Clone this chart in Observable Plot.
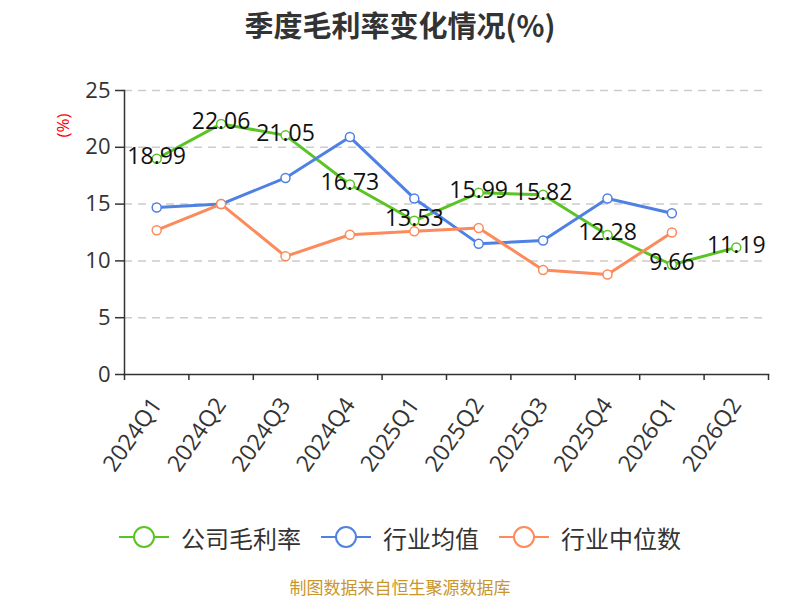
<!DOCTYPE html>
<html>
<head>
<meta charset="utf-8">
<script src="https://cdn.jsdelivr.net/npm/d3@7"></script>
<script src="https://cdn.jsdelivr.net/npm/@observablehq/plot@0.6"></script>
<style>
  html, body { margin: 0; padding: 0; background: #fff; }
  body { width: 800px; height: 600px; overflow: hidden; font-family: 'Open Sans', 'Noto Sans CJK SC', sans-serif; }
  #title { height: 45px; line-height: 48px; text-align: center; font-size: 29px; font-weight: bold; color: #333; font-family: 'Noto Sans CJK SC', sans-serif; }
  #chart { height: 455px; }
  #legend { height: 74px; display: flex; align-items: center; justify-content: center; font-size: 24px; color: #333; font-family: 'Noto Sans CJK SC', sans-serif; }
  .item { display: flex; align-items: center; margin: 0 10px; }
  .item svg { margin-right: 12px; }
  #footer { text-align: center; font-size: 17px; line-height: 26px; color: #c9962c; font-family: 'Noto Sans CJK SC', sans-serif; }
</style>
</head>
<body>
<div id="title">季度毛利率变化情况(%)</div>
<div id="chart"></div>
<div id="legend"></div>
<div id="footer">制图数据来自恒生聚源数据库</div>
<script>
const quarters = ["2024Q1","2024Q2","2024Q3","2024Q4","2025Q1","2025Q2","2025Q3","2025Q4","2026Q1","2026Q2"];
const company = [18.99, 22.06, 21.05, 16.73, 13.53, 15.99, 15.82, 12.28, 9.66, 11.19];
const industryMean = [14.7, 15.0, 17.3, 20.9, 15.5, 11.5, 11.8, 15.5, 14.2];
const industryMedian = [12.7, 15.0, 10.4, 12.3, 12.6, 12.9, 9.2, 8.8, 12.5];
const seriesNames = ["公司毛利率", "行业均值", "行业中位数"];
const seriesColors = ["#5ac425", "#4f80e3", "#fc8a5a"];
const yTicks = [0, 5, 10, 15, 20, 25];
const gridTicks = [5, 10, 15, 20, 25];

function rows(values, name) {
  return values.map((v, i) => ({ i: i + 0.5, q: quarters[i], v, series: name }));
}
const companyRows = rows(company, seriesNames[0]);
const meanRows = rows(industryMean, seriesNames[1]);
const medianRows = rows(industryMedian, seriesNames[2]);

const font = "'Open Sans', 'Noto Sans CJK SC', sans-serif";

const plot = Plot.plot({
  width: 800,
  height: 455,
  marginTop: 45,
  marginLeft: 124,
  marginRight: 32,
  marginBottom: 126,
  style: { fontFamily: font, background: "white", overflow: "visible" },
  x: { domain: [0, quarters.length], axis: null },
  y: { domain: [0, 25], axis: null },
  color: { domain: seriesNames, range: seriesColors },
  marks: [
    Plot.ruleY(gridTicks, { stroke: "#cccccc", strokeWidth: 1.5, strokeDasharray: "8,6" }),
    Plot.axisY({ ticks: yTicks, tickSize: 9, tickPadding: 5, fontSize: 22, color: "#333", label: null, strokeWidth: 1.5 }),
    Plot.axisX({ ticks: d3.range(quarters.length + 1), tickSize: 6, tickFormat: () => "", color: "#333", label: null, strokeWidth: 1.5 }),
    Plot.axisX({ ticks: d3.range(quarters.length).map(i => i + 0.5), tickSize: 0, tickPadding: 26, tickRotate: -55,
      tickFormat: d => quarters[Math.floor(d)], fontSize: 23, color: "#333", label: null }),
    Plot.frame({ anchor: "left", stroke: "#333", strokeWidth: 1.5 }),
    Plot.frame({ anchor: "bottom", stroke: "#333", strokeWidth: 1.5 }),
    Plot.text(["(%)"], { frameAnchor: "top-left", textAnchor: "middle", lineAnchor: "middle", dx: -61, dy: 35, rotate: -90, fill: "red", fontSize: 17 }),
    Plot.line(companyRows, { x: "i", y: "v", stroke: "series", strokeWidth: 3 }),
    Plot.dot(companyRows, { x: "i", y: "v", stroke: "series", fill: "white", r: 4.5, strokeWidth: 1.5 }),
    Plot.line(meanRows, { x: "i", y: "v", stroke: "series", strokeWidth: 3 }),
    Plot.dot(meanRows, { x: "i", y: "v", stroke: "series", fill: "white", r: 4.5, strokeWidth: 1.5 }),
    Plot.line(medianRows, { x: "i", y: "v", stroke: "series", strokeWidth: 3 }),
    Plot.dot(medianRows, { x: "i", y: "v", stroke: "series", fill: "white", r: 4.5, strokeWidth: 1.5 }),
    Plot.text(companyRows, { x: "i", y: "v", text: d => d.v.toFixed(2), fontSize: 23, fill: "#111", dy: -2 })
  ]
});
document.getElementById("chart").appendChild(plot);

const legend = document.getElementById("legend");
seriesNames.forEach((name, k) => {
  const item = document.createElement("div");
  item.className = "item";
  item.innerHTML = `<svg width="50" height="24"><line x1="0" y1="12" x2="50" y2="12" stroke="${seriesColors[k]}" stroke-width="2"/><circle cx="25" cy="12" r="10" fill="white" stroke="${seriesColors[k]}" stroke-width="2"/></svg><span>${name}</span>`;
  legend.appendChild(item);
});
</script>
</body>
</html>
